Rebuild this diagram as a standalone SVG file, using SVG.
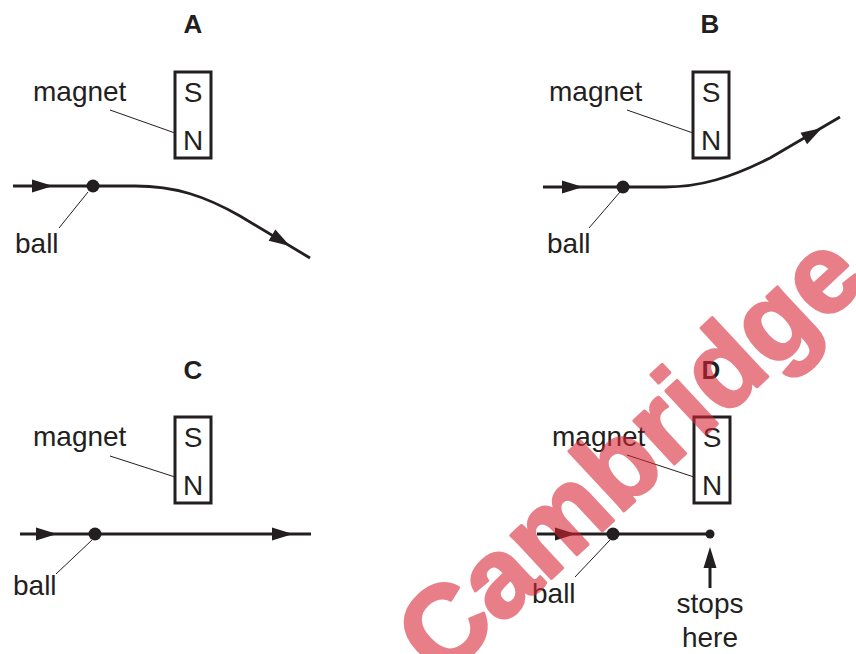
<svg xmlns="http://www.w3.org/2000/svg" width="856" height="654" viewBox="0 0 856 654">
<style>
.lbl{font-family:"Liberation Sans",Arial,sans-serif;font-size:28px;fill:#231f20}
.pole{font-family:"Liberation Sans",Arial,sans-serif;font-size:28px;fill:#231f20;text-anchor:middle}
.head{font-family:"Liberation Sans",Arial,sans-serif;font-size:26px;font-weight:bold;fill:#231f20;text-anchor:middle}
.mag{fill:#fff;stroke:#231f20;stroke-width:3}
.path{fill:none;stroke:#231f20;stroke-width:2.8}
.lead{fill:none;stroke:#231f20;stroke-width:1}
.ah{fill:#231f20}
.wm{font-family:"Liberation Sans",Arial,sans-serif;font-size:112px;font-weight:bold;fill:#d92433;stroke:#d92433;stroke-width:3;stroke-linejoin:round;opacity:0.58;text-anchor:middle}
</style>
<defs>
<path id="arr" d="M0,0 L-21,-6.5 L-21,6.5 Z"/>
</defs>
<g id="panelA">
<text class="head" x="193" y="33">A</text>
<g id="magnetA"><rect class="mag" x="175" y="72" width="36" height="86"/><text class="pole" x="193" y="102">S</text><text class="pole" x="193" y="150">N</text></g>
<text class="lbl" x="33" y="101">magnet</text>
<text class="lbl" x="15" y="253">ball</text>
</g>
<g id="panelB">
<text class="head" x="710" y="33">B</text>
<g id="magnetB"><rect class="mag" x="693" y="72" width="36" height="86"/><text class="pole" x="711" y="102">S</text><text class="pole" x="711" y="150">N</text></g>
<text class="lbl" x="549" y="101">magnet</text>
<text class="lbl" x="547" y="253">ball</text>
</g>
<g id="panelC">
<text class="head" x="193" y="379">C</text>
<g id="magnetC"><rect class="mag" x="175" y="417" width="36" height="86"/><text class="pole" x="193" y="447">S</text><text class="pole" x="193" y="495">N</text></g>
<text class="lbl" x="33" y="446">magnet</text>
<text class="lbl" x="13" y="595">ball</text>
</g>
<g id="panelD">
<text class="head" x="711" y="379">D</text>
<g id="magnetD"><rect class="mag" x="694" y="417" width="36" height="86"/><text class="pole" x="712" y="447">S</text><text class="pole" x="712" y="495">N</text></g>
<text class="lbl" x="552" y="446">magnet</text>
<text class="lbl" x="532" y="603">ball</text>
<text class="lbl" x="710" y="613" text-anchor="middle">stops</text>
<text class="lbl" x="710" y="647" text-anchor="middle">here</text>
</g>
<g id="connectors">
<line class="lead" x1="110" y1="110" x2="175" y2="133"/>
<line class="lead" x1="88" y1="192" x2="59" y2="228"/>
<path class="path" d="M13,186 H135 C175,186 205,196 240,216 L310,258"/>
<use href="#arr" class="ah" transform="translate(53,186)"/>
<use href="#arr" class="ah" transform="translate(290,246) rotate(31)"/>
<circle cx="93" cy="186" r="6.5" class="ah"/>

<line class="lead" x1="627" y1="110" x2="693" y2="133"/>
<line class="lead" x1="620" y1="192" x2="589" y2="228"/>
<path class="path" d="M543,187 H665 C700,187 730,178 770,158 L840,117"/>
<use href="#arr" class="ah" transform="translate(583,187)"/>
<use href="#arr" class="ah" transform="translate(822,128) rotate(-30)"/>
<circle cx="623" cy="187" r="6.5" class="ah"/>

<line class="lead" x1="110" y1="456" x2="175" y2="477"/>
<line class="lead" x1="92" y1="540" x2="56" y2="574"/>
<path class="path" d="M20,534 H311"/>
<use href="#arr" class="ah" transform="translate(57,534)"/>
<use href="#arr" class="ah" transform="translate(293,534)"/>
<circle cx="95" cy="534" r="6.5" class="ah"/>

<line class="lead" x1="627" y1="455" x2="694" y2="477"/>
<line class="lead" x1="610" y1="540" x2="575" y2="577"/>
<path class="path" d="M537,534 H710"/>
<use href="#arr" class="ah" transform="translate(576,534)"/>
<circle cx="613" cy="534" r="6.5" class="ah"/>
<circle cx="710" cy="534" r="4.5" class="ah"/>
<line x1="710" y1="588" x2="710" y2="562" stroke="#231f20" stroke-width="3"/>
<use href="#arr" class="ah" transform="translate(710,547) rotate(-90)"/>
</g>
<text class="wm" x="655" y="482" transform="rotate(-43 655 482)">Cambridge</text>
</svg>
